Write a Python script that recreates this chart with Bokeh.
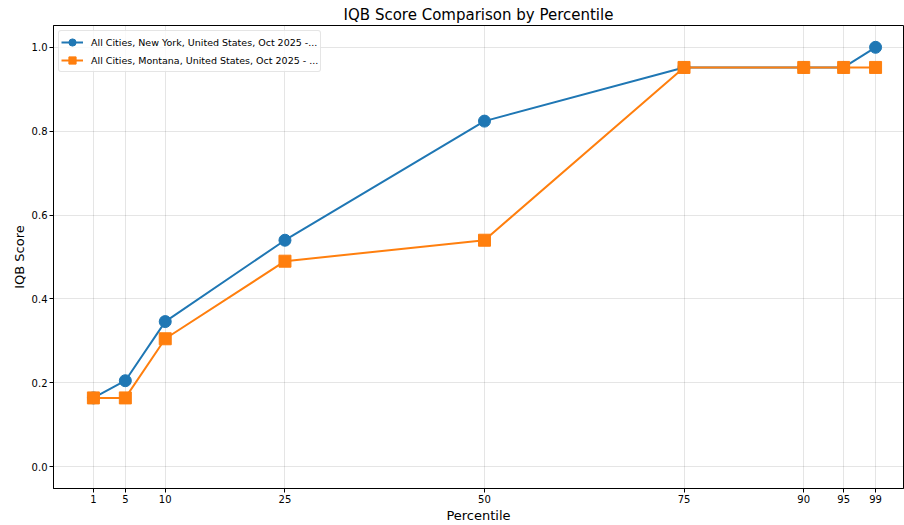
from bokeh.plotting import figure
from bokeh.models import FixedTicker, NumeralTickFormatter, Range1d, Legend, LegendItem
from bokeh.embed import file_html
from bokeh.resources import INLINE

percentiles = [1, 5, 10, 25, 50, 75, 90, 95, 99]
x_ticks = [1, 5, 10, 25, 50, 75, 90, 95, 99]
y_ticks = [0.0, 0.2, 0.4, 0.6, 0.8, 1.0]
ny_label = "All Cities, New York, United States, Oct 2025 -..."
mt_label = "All Cities, Montana, United States, Oct 2025 - ..."
ny_scores = [0.164, 0.205, 0.346, 0.540, 0.824, 0.952, 0.952, 0.952, 1.000]
mt_scores = [0.164, 0.164, 0.305, 0.490, 0.540, 0.952, 0.952, 0.952, 0.952]

FONT = "DejaVu Sans"

p = figure(width=904, height=525, output_backend="svg", toolbar_location=None,
           x_range=Range1d(-4.0, 102.5), y_range=Range1d(-0.052, 1.052),
           min_border_left=53, min_border_right=1, min_border_top=25, min_border_bottom=30)

p.title.text = "IQB Score Comparison by Percentile"
p.title.align = "center"
p.title.text_font = FONT
p.title.text_font_style = "normal"
p.title.text_font_size = "15px"
p.title.text_color = "black"
p.title.offset = 0
p.title.standoff = 3

l1 = p.line(percentiles, ny_scores, color="#1f77b4", line_width=2)
m1 = p.scatter(percentiles, ny_scores, marker="circle", size=12, color="#1f77b4")
l2 = p.line(percentiles, mt_scores, color="#ff7f0e", line_width=2)
m2 = p.scatter(percentiles, mt_scores, marker="square", size=12, color="#ff7f0e")

legend = Legend(items=[LegendItem(label=ny_label, renderers=[l1, m1]),
                       LegendItem(label=mt_label, renderers=[l2, m2])],
                location="top_left")
legend.label_text_font = FONT
legend.label_text_font_size = "9.5px"
legend.label_text_color = "black"
legend.label_height = 14
legend.glyph_height = 18
legend.glyph_width = 22
legend.label_standoff = 8
legend.spacing = -3
legend.padding = 2
legend.margin = 5
legend.border_line_color = "#cccccc"
legend.border_radius = 3
legend.background_fill_alpha = 0.8
p.add_layout(legend)

p.xaxis.ticker = FixedTicker(ticks=x_ticks)
p.yaxis.ticker = FixedTicker(ticks=y_ticks)
p.yaxis.formatter = NumeralTickFormatter(format="0.0")
p.xaxis.axis_label = "Percentile"
p.yaxis.axis_label = "IQB Score"
for ax in (p.xaxis, p.yaxis):
    ax.axis_label_text_font = FONT
    ax.axis_label_text_font_style = "normal"
    ax.axis_label_text_font_size = "13px"
    ax.axis_label_text_color = "black"
    ax.major_label_text_font = FONT
    ax.major_label_text_font_size = "10px"
    ax.major_label_text_color = "black"
    ax.minor_tick_line_color = None
    ax.major_tick_in = 0
    ax.major_tick_out = 4
    ax.axis_line_color = "black"
    ax.major_tick_line_color = "black"
    ax.axis_label_standoff = 2
    ax.major_label_standoff = 2

p.xgrid.grid_line_color = "black"
p.xgrid.grid_line_alpha = 0.1
p.ygrid.grid_line_color = "black"
p.ygrid.grid_line_alpha = 0.1
p.outline_line_color = "black"
p.outline_line_alpha = 1.0
p.background_fill_color = "white"
p.border_fill_color = "white"

open("out.html", "w").write(file_html(p, INLINE))
